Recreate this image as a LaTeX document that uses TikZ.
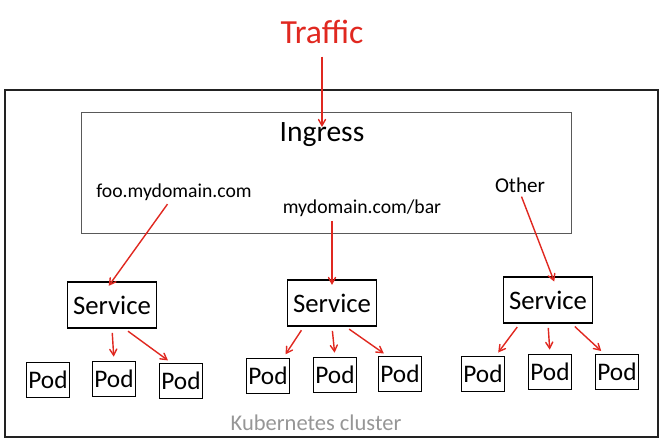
\documentclass[tikz,border=0pt]{standalone}
\usepackage{fontspec}
\setmainfont{Carlito}
\usepackage{tikz}
\usetikzlibrary{arrows}
\definecolor{flowred}{RGB}{224,40,32}
\definecolor{frameink}{RGB}{34,34,34}
\definecolor{softgray}{RGB}{150,150,150}
\tikzset{
  k_text/.style = {align=center, inner sep=0pt, text centered},
  k_frame/.style = {draw=frameink, line width=1.3pt, inner sep=0pt,
    minimum width=16.325cm, minimum height=8.675cm},% the cluster
  k_ingress/.style = {draw=black!65, line width=0.7pt, inner sep=0pt,
    minimum width=12.225cm, minimum height=3cm},% ingress box
  k_svc/.style = {k_text, draw=black, line width=1pt,
    minimum width=2.22cm, minimum height=1.15cm, font=\fontsize{19}{22}\selectfont},% service
  k_pod/.style = {k_text, draw=black, line width=1pt,
    minimum width=1.07cm, minimum height=0.87cm, font=\fontsize{18}{20}\selectfont},% pod
  k_path/.style = {k_text, font=\fontsize{14}{17}\selectfont},% routing rule
  k_flow/.style = {->, >=angle 60, draw=flowred, line width=1pt,
    shorten <=3pt, shorten >=3pt}% red arrows
}

\begin{document}
\begin{tikzpicture} [x=0.025cm, y=-0.025cm]
	\useasboundingbox (0,0) rectangle (666,444);
	\node [k_frame] (cluster) at (331.5,263.5) {};
	\node [k_ingress] (ingress) at (326.5,173) {};
	\node [k_text, flowred, font=\fontsize{24}{28}\selectfont] (traffic) at (322,32) {Traffic};
	\node [k_text, font=\fontsize{21}{25}\selectfont] (ingresslbl) at (322,135) {Ingress};
	\node [k_path] (foo) at (174,192) {foo.mydomain.com};
	\node [k_path] (bar) at (362,208) {mydomain.com/bar};
	\node [k_path, font=\fontsize{15}{18}\selectfont] (other) at (520,185) {Other};
	% services
	\node [k_svc] (svcA) at (112,305) {Service};
	\node [k_svc] (svcB) at (332,303) {Service};
	\node [k_svc] (svcC) at (548,300) {Service};
	% pods
	\node [k_pod] (podA1) at (48,380) {Pod};
	\node [k_pod] (podA2) at (114,379) {Pod};
	\node [k_pod] (podA3) at (181,381) {Pod};
	\node [k_pod] (podB1) at (268,376) {Pod};
	\node [k_pod] (podB2) at (335,375) {Pod};
	\node [k_pod] (podB3) at (400,374) {Pod};
	\node [k_pod] (podC1) at (483,374) {Pod};
	\node [k_pod] (podC2) at (550,372) {Pod};
	\node [k_pod] (podC3) at (617,372) {Pod};
	\node [k_text, softgray, font=\fontsize{16}{19}\selectfont] (clusterlbl) at (316,423) {Kubernetes cluster};
	% traffic
	\draw [k_flow, shorten <=9pt, shorten >=-3pt] (traffic.south) -- (ingresslbl.north);
	\draw [k_flow, shorten >=-4pt] (foo.-115) -- (svcA.north);
	\draw [k_flow, shorten >=-4pt] (bar.south -| svcB.north) -- (svcB.north);
	\draw [k_flow, shorten >=-4pt] (other.south) -- (svcC.80);
	\draw [k_flow] (svcA.south) -- (podA2.north);
	\draw [k_flow] (svcA.-62) -- (podA3.118);
	\draw [k_flow] (svcB.-140) -- (podB1.50);
	\draw [k_flow] (svcB.south) -- (podB2.north);
	\draw [k_flow] (svcB.-60) -- (podB3.125);
	\draw [k_flow] (svcC.-140) -- (podC1.55);
	\draw [k_flow] (svcC.south) -- (podC2.north);
	\draw [k_flow] (svcC.-45) -- (podC3.125);
\end{tikzpicture}
\end{document}
